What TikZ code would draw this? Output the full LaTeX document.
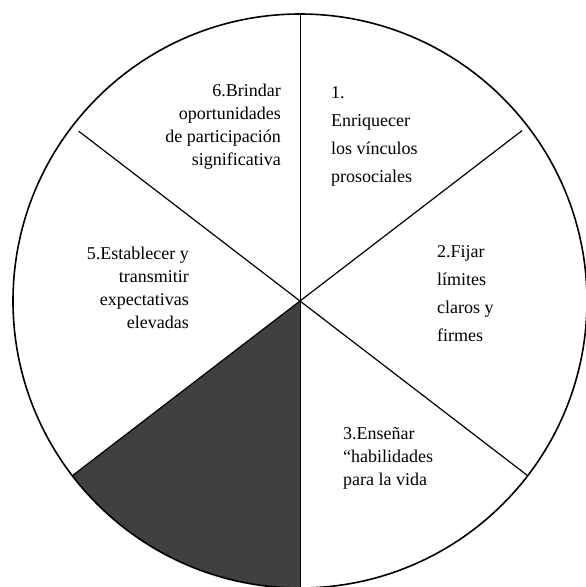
\documentclass[tikz,border=0pt]{standalone}
\usepackage{fontspec}
\setmainfont{Liberation Serif}
\usetikzlibrary{calc}
\tikzset{
  rim/.style    = {draw, line width=1.6pt},
  spoke/.style  = {line width=1.2pt},
  shade/.style  = {fill=black!75},
  textl/.style  = {anchor=west, align=left, inner sep=0pt,
                   font=\fontsize{18}{#1}\selectfont},
  textl/.default = 23,
  textr/.style  = {anchor=east, align=right, inner sep=0pt,
                   font=\fontsize{18}{23}\selectfont},
}

\begin{document}
\begin{tikzpicture}[x=1pt,y=1pt]
\useasboundingbox (-300,-286) rectangle (286,301);
\coordinate (o) at (0,0);
\coordinate (top) at (90:287);
\coordinate (bot) at (270:287);
\coordinate (ul) at (142.5:279);
\coordinate (ur) at (37.5:280);
\coordinate (lr) at (-37.5:286);
\coordinate (ll) at (217.5:287);
% dark sector
\fill[shade] (o) -- (ll) arc[start angle=217.5,end angle=270,radius=287] -- cycle;
\draw[rim] (o) circle[radius=287];
\draw[spoke,line width=0.9pt] (top) -- (bot);
\draw[spoke] (ul) -- (lr);
\draw[spoke] (ur) -- (ll);
% texts
\node[textr] (t6) at (-19,174) {6.Brindar\\oportunidades\\de participación\\significativa};
\node[textl=28] (t1) at (31,165) {1.\\Enriquecer\\los vínculos\\prosociales};
\node[textl=28] (t2) at (137,7) {2.Fijar\\límites\\claros y\\firmes};
\node[textl] (t3) at (43,-157) {3.Enseñar\\“habilidades\\para la vida};
\node[textr] (t5) at (-111,13) {5.Establecer y\\transmitir\\expectativas\\elevadas};
\end{tikzpicture}
\end{document}
